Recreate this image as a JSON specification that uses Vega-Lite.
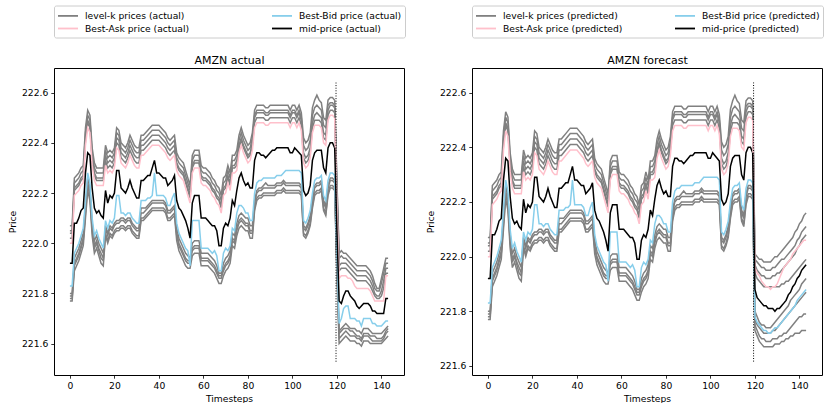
{
"$schema": "https://vega.github.io/schema/vega-lite/v6.json",
"background": "white",
"padding": {"left": 7, "top": 4, "right": 0, "bottom": 0},
"datasets": {
"hist": [
{"t":0,"m":221.92,"a1":222.00,"a2":222.02,"a3":222.04,"a4":222.05,"a5":222.07,"b1":221.83,"b2":221.80,"b3":221.79,"b4":221.78,"b5":221.77},
{"t":1,"m":221.92,"a1":222.00,"a2":222.02,"a3":222.04,"a4":222.05,"a5":222.07,"b1":221.83,"b2":221.80,"b3":221.79,"b4":221.78,"b5":221.77},
{"t":2,"m":222.08,"a1":222.19,"a2":222.21,"a3":222.22,"a4":222.24,"a5":222.26,"b1":221.96,"b2":221.94,"b3":221.92,"b4":221.91,"b5":221.89},
{"t":3,"m":222.08,"a1":222.20,"a2":222.22,"a3":222.23,"a4":222.25,"a5":222.27,"b1":221.98,"b2":221.96,"b3":221.94,"b4":221.93,"b5":221.91},
{"t":4,"m":222.10,"a1":222.21,"a2":222.23,"a3":222.24,"a4":222.26,"a5":222.28,"b1":222.00,"b2":221.98,"b3":221.96,"b4":221.95,"b5":221.93},
{"t":5,"m":222.13,"a1":222.23,"a2":222.25,"a3":222.26,"a4":222.28,"a5":222.30,"b1":222.03,"b2":222.01,"b3":221.99,"b4":221.98,"b5":221.96},
{"t":6,"m":222.14,"a1":222.24,"a2":222.26,"a3":222.27,"a4":222.29,"a5":222.31,"b1":222.06,"b2":222.04,"b3":222.02,"b4":222.01,"b5":221.99},
{"t":7,"m":222.28,"a1":222.39,"a2":222.41,"a3":222.42,"a4":222.44,"a5":222.46,"b1":222.17,"b2":222.15,"b3":222.13,"b4":222.12,"b5":222.10},
{"t":8,"m":222.36,"a1":222.46,"a2":222.48,"a3":222.49,"a4":222.51,"a5":222.53,"b1":222.28,"b2":222.26,"b3":222.24,"b4":222.23,"b5":222.21},
{"t":9,"m":222.35,"a1":222.44,"a2":222.46,"a3":222.47,"a4":222.49,"a5":222.51,"b1":222.24,"b2":222.22,"b3":222.20,"b4":222.19,"b5":222.17},
{"t":10,"m":222.22,"a1":222.31,"a2":222.33,"a3":222.34,"a4":222.36,"a5":222.38,"b1":222.10,"b2":222.08,"b3":222.06,"b4":222.05,"b5":222.03},
{"t":11,"m":222.14,"a1":222.25,"a2":222.27,"a3":222.28,"a4":222.30,"a5":222.32,"b1":222.03,"b2":222.01,"b3":221.99,"b4":221.98,"b5":221.96},
{"t":12,"m":222.12,"a1":222.23,"a2":222.25,"a3":222.26,"a4":222.28,"a5":222.30,"b1":222.05,"b2":222.03,"b3":222.01,"b4":222.00,"b5":221.98},
{"t":13,"m":222.13,"a1":222.23,"a2":222.25,"a3":222.26,"a4":222.28,"a5":222.30,"b1":222.02,"b2":222.00,"b3":221.98,"b4":221.97,"b5":221.95},
{"t":14,"m":222.11,"a1":222.23,"a2":222.25,"a3":222.26,"a4":222.28,"a5":222.30,"b1":222.00,"b2":221.98,"b3":221.96,"b4":221.94,"b5":221.92},
{"t":15,"m":222.10,"a1":222.23,"a2":222.25,"a3":222.26,"a4":222.28,"a5":222.30,"b1":221.98,"b2":221.96,"b3":221.94,"b4":221.93,"b5":221.91},
{"t":16,"m":222.21,"a1":222.31,"a2":222.33,"a3":222.35,"a4":222.37,"a5":222.39,"b1":222.09,"b2":222.07,"b3":222.06,"b4":222.04,"b5":222.03},
{"t":17,"m":222.16,"a1":222.28,"a2":222.30,"a3":222.32,"a4":222.34,"a5":222.36,"b1":222.06,"b2":222.04,"b3":222.03,"b4":222.01,"b5":222.00},
{"t":18,"m":222.19,"a1":222.29,"a2":222.31,"a3":222.33,"a4":222.35,"a5":222.37,"b1":222.09,"b2":222.07,"b3":222.06,"b4":222.04,"b5":222.03},
{"t":19,"m":222.18,"a1":222.28,"a2":222.30,"a3":222.32,"a4":222.34,"a5":222.36,"b1":222.08,"b2":222.06,"b3":222.05,"b4":222.03,"b5":222.02},
{"t":20,"m":222.20,"a1":222.30,"a2":222.32,"a3":222.34,"a4":222.36,"a5":222.38,"b1":222.10,"b2":222.08,"b3":222.07,"b4":222.05,"b5":222.04},
{"t":21,"m":222.29,"a1":222.38,"a2":222.40,"a3":222.42,"a4":222.44,"a5":222.46,"b1":222.19,"b2":222.09,"b3":222.08,"b4":222.06,"b5":222.05},
{"t":22,"m":222.29,"a1":222.37,"a2":222.39,"a3":222.41,"a4":222.43,"a5":222.45,"b1":222.19,"b2":222.09,"b3":222.08,"b4":222.06,"b5":222.05},
{"t":23,"m":222.22,"a1":222.32,"a2":222.34,"a3":222.36,"a4":222.38,"a5":222.40,"b1":222.12,"b2":222.10,"b3":222.09,"b4":222.07,"b5":222.06},
{"t":24,"m":222.21,"a1":222.31,"a2":222.33,"a3":222.35,"a4":222.37,"a5":222.39,"b1":222.12,"b2":222.10,"b3":222.09,"b4":222.07,"b5":222.06},
{"t":25,"m":222.20,"a1":222.30,"a2":222.32,"a3":222.34,"a4":222.36,"a5":222.38,"b1":222.11,"b2":222.09,"b3":222.08,"b4":222.06,"b5":222.05},
{"t":26,"m":222.22,"a1":222.32,"a2":222.34,"a3":222.36,"a4":222.38,"a5":222.40,"b1":222.12,"b2":222.10,"b3":222.09,"b4":222.07,"b5":222.06},
{"t":27,"m":222.25,"a1":222.35,"a2":222.37,"a3":222.39,"a4":222.41,"a5":222.43,"b1":222.12,"b2":222.10,"b3":222.09,"b4":222.07,"b5":222.06},
{"t":28,"m":222.22,"a1":222.33,"a2":222.35,"a3":222.37,"a4":222.39,"a5":222.41,"b1":222.10,"b2":222.08,"b3":222.07,"b4":222.05,"b5":222.04},
{"t":29,"m":222.20,"a1":222.31,"a2":222.33,"a3":222.35,"a4":222.37,"a5":222.39,"b1":222.09,"b2":222.07,"b3":222.06,"b4":222.04,"b5":222.03},
{"t":30,"m":222.18,"a1":222.30,"a2":222.32,"a3":222.34,"a4":222.36,"a5":222.38,"b1":222.08,"b2":222.06,"b3":222.05,"b4":222.03,"b5":222.02},
{"t":31,"m":222.18,"a1":222.30,"a2":222.32,"a3":222.34,"a4":222.36,"a5":222.38,"b1":222.08,"b2":222.06,"b3":222.05,"b4":222.03,"b5":222.02},
{"t":32,"m":222.25,"a1":222.35,"a2":222.37,"a3":222.39,"a4":222.41,"a5":222.43,"b1":222.17,"b2":222.14,"b3":222.12,"b4":222.10,"b5":222.09},
{"t":33,"m":222.25,"a1":222.35,"a2":222.37,"a3":222.39,"a4":222.41,"a5":222.43,"b1":222.17,"b2":222.14,"b3":222.12,"b4":222.10,"b5":222.09},
{"t":34,"m":222.26,"a1":222.36,"a2":222.38,"a3":222.40,"a4":222.42,"a5":222.44,"b1":222.17,"b2":222.14,"b3":222.13,"b4":222.11,"b5":222.10},
{"t":35,"m":222.27,"a1":222.37,"a2":222.39,"a3":222.41,"a4":222.43,"a5":222.45,"b1":222.18,"b2":222.15,"b3":222.14,"b4":222.12,"b5":222.11},
{"t":36,"m":222.27,"a1":222.38,"a2":222.40,"a3":222.42,"a4":222.44,"a5":222.46,"b1":222.18,"b2":222.16,"b3":222.15,"b4":222.13,"b5":222.12},
{"t":37,"m":222.30,"a1":222.39,"a2":222.41,"a3":222.43,"a4":222.45,"a5":222.47,"b1":222.19,"b2":222.17,"b3":222.16,"b4":222.14,"b5":222.13},
{"t":38,"m":222.33,"a1":222.39,"a2":222.41,"a3":222.43,"a4":222.45,"a5":222.47,"b1":222.28,"b2":222.17,"b3":222.16,"b4":222.14,"b5":222.13},
{"t":39,"m":222.28,"a1":222.39,"a2":222.41,"a3":222.43,"a4":222.45,"a5":222.47,"b1":222.19,"b2":222.17,"b3":222.16,"b4":222.14,"b5":222.13},
{"t":40,"m":222.28,"a1":222.39,"a2":222.41,"a3":222.43,"a4":222.45,"a5":222.47,"b1":222.19,"b2":222.17,"b3":222.16,"b4":222.14,"b5":222.13},
{"t":41,"m":222.27,"a1":222.38,"a2":222.40,"a3":222.42,"a4":222.44,"a5":222.46,"b1":222.19,"b2":222.17,"b3":222.16,"b4":222.14,"b5":222.13},
{"t":42,"m":222.26,"a1":222.37,"a2":222.39,"a3":222.41,"a4":222.43,"a5":222.45,"b1":222.19,"b2":222.17,"b3":222.16,"b4":222.14,"b5":222.13},
{"t":43,"m":222.26,"a1":222.36,"a2":222.38,"a3":222.40,"a4":222.42,"a5":222.44,"b1":222.18,"b2":222.16,"b3":222.15,"b4":222.13,"b5":222.12},
{"t":44,"m":222.23,"a1":222.34,"a2":222.36,"a3":222.38,"a4":222.40,"a5":222.42,"b1":222.15,"b2":222.13,"b3":222.12,"b4":222.10,"b5":222.09},
{"t":45,"m":222.24,"a1":222.33,"a2":222.35,"a3":222.37,"a4":222.39,"a5":222.41,"b1":222.15,"b2":222.13,"b3":222.12,"b4":222.10,"b5":222.09},
{"t":46,"m":222.25,"a1":222.34,"a2":222.36,"a3":222.38,"a4":222.40,"a5":222.42,"b1":222.18,"b2":222.14,"b3":222.13,"b4":222.11,"b5":222.10},
{"t":47,"m":222.27,"a1":222.35,"a2":222.37,"a3":222.39,"a4":222.41,"a5":222.43,"b1":222.20,"b2":222.15,"b3":222.14,"b4":222.12,"b5":222.11},
{"t":48,"m":222.17,"a1":222.29,"a2":222.31,"a3":222.32,"a4":222.34,"a5":222.36,"b1":222.08,"b2":222.06,"b3":222.04,"b4":222.03,"b5":222.01},
{"t":49,"m":222.14,"a1":222.27,"a2":222.29,"a3":222.30,"a4":222.32,"a5":222.34,"b1":222.04,"b2":222.02,"b3":222.00,"b4":221.99,"b5":221.97},
{"t":50,"m":222.13,"a1":222.26,"a2":222.28,"a3":222.29,"a4":222.31,"a5":222.33,"b1":222.02,"b2":222.00,"b3":221.98,"b4":221.97,"b5":221.95},
{"t":51,"m":222.11,"a1":222.25,"a2":222.27,"a3":222.28,"a4":222.30,"a5":222.32,"b1":222.00,"b2":221.98,"b3":221.96,"b4":221.95,"b5":221.93},
{"t":52,"m":222.09,"a1":222.22,"a2":222.24,"a3":222.25,"a4":222.27,"a5":222.29,"b1":221.98,"b2":221.96,"b3":221.94,"b4":221.93,"b5":221.91},
{"t":53,"m":222.06,"a1":222.19,"a2":222.21,"a3":222.22,"a4":222.24,"a5":222.26,"b1":221.97,"b2":221.95,"b3":221.93,"b4":221.92,"b5":221.90},
{"t":54,"m":222.02,"a1":222.16,"a2":222.18,"a3":222.19,"a4":222.21,"a5":222.23,"b1":221.91,"b2":221.94,"b3":221.93,"b4":221.92,"b5":221.90},
{"t":55,"m":222.16,"a1":222.28,"a2":222.30,"a3":222.31,"a4":222.33,"a5":222.35,"b1":222.09,"b2":222.00,"b3":221.98,"b4":221.97,"b5":221.95},
{"t":56,"m":222.19,"a1":222.30,"a2":222.32,"a3":222.33,"a4":222.35,"a5":222.37,"b1":222.09,"b2":222.01,"b3":221.99,"b4":221.98,"b5":221.96},
{"t":57,"m":222.19,"a1":222.30,"a2":222.32,"a3":222.33,"a4":222.35,"a5":222.37,"b1":222.09,"b2":222.01,"b3":221.99,"b4":221.98,"b5":221.96},
{"t":58,"m":222.19,"a1":222.30,"a2":222.32,"a3":222.33,"a4":222.35,"a5":222.37,"b1":222.09,"b2":222.01,"b3":221.99,"b4":221.98,"b5":221.96},
{"t":59,"m":222.10,"a1":222.24,"a2":222.26,"a3":222.27,"a4":222.29,"a5":222.31,"b1":221.98,"b2":221.96,"b3":221.94,"b4":221.93,"b5":221.91},
{"t":60,"m":222.10,"a1":222.23,"a2":222.25,"a3":222.26,"a4":222.28,"a5":222.30,"b1":221.98,"b2":221.96,"b3":221.94,"b4":221.93,"b5":221.91},
{"t":61,"m":222.10,"a1":222.23,"a2":222.25,"a3":222.26,"a4":222.28,"a5":222.30,"b1":221.98,"b2":221.96,"b3":221.94,"b4":221.93,"b5":221.91},
{"t":62,"m":222.09,"a1":222.22,"a2":222.24,"a3":222.25,"a4":222.27,"a5":222.29,"b1":221.98,"b2":221.96,"b3":221.94,"b4":221.93,"b5":221.91},
{"t":63,"m":222.08,"a1":222.21,"a2":222.23,"a3":222.24,"a4":222.26,"a5":222.28,"b1":221.97,"b2":221.95,"b3":221.93,"b4":221.92,"b5":221.90},
{"t":64,"m":222.07,"a1":222.19,"a2":222.21,"a3":222.22,"a4":222.24,"a5":222.26,"b1":221.96,"b2":221.94,"b3":221.92,"b4":221.91,"b5":221.89},
{"t":65,"m":222.07,"a1":222.18,"a2":222.20,"a3":222.21,"a4":222.23,"a5":222.25,"b1":221.97,"b2":221.93,"b3":221.91,"b4":221.90,"b5":221.88},
{"t":66,"m":222.05,"a1":222.16,"a2":222.18,"a3":222.19,"a4":222.21,"a5":222.23,"b1":221.95,"b2":221.91,"b3":221.89,"b4":221.88,"b5":221.86},
{"t":67,"m":221.99,"a1":222.15,"a2":222.17,"a3":222.18,"a4":222.20,"a5":222.22,"b1":221.89,"b2":221.88,"b3":221.87,"b4":221.86,"b5":221.84},
{"t":68,"m":221.99,"a1":222.12,"a2":222.14,"a3":222.15,"a4":222.17,"a5":222.19,"b1":221.89,"b2":221.88,"b3":221.87,"b4":221.86,"b5":221.84},
{"t":69,"m":222.06,"a1":222.19,"a2":222.21,"a3":222.22,"a4":222.24,"a5":222.26,"b1":221.96,"b2":221.92,"b3":221.90,"b4":221.89,"b5":221.87},
{"t":70,"m":222.08,"a1":222.20,"a2":222.22,"a3":222.23,"a4":222.25,"a5":222.27,"b1":221.98,"b2":221.94,"b3":221.92,"b4":221.91,"b5":221.89},
{"t":71,"m":222.07,"a1":222.24,"a2":222.26,"a3":222.27,"a4":222.29,"a5":222.31,"b1":221.97,"b2":221.95,"b3":221.93,"b4":221.92,"b5":221.90},
{"t":72,"m":222.10,"a1":222.21,"a2":222.23,"a3":222.24,"a4":222.26,"a5":222.28,"b1":221.99,"b2":221.97,"b3":221.95,"b4":221.94,"b5":221.92},
{"t":73,"m":222.17,"a1":222.28,"a2":222.30,"a3":222.31,"a4":222.33,"a5":222.35,"b1":222.06,"b2":222.04,"b3":222.02,"b4":222.01,"b5":221.99},
{"t":74,"m":222.15,"a1":222.28,"a2":222.30,"a3":222.31,"a4":222.33,"a5":222.35,"b1":222.05,"b2":222.03,"b3":222.01,"b4":222.00,"b5":221.98},
{"t":75,"m":222.21,"a1":222.29,"a2":222.31,"a3":222.33,"a4":222.35,"a5":222.37,"b1":222.12,"b2":222.08,"b3":222.06,"b4":222.05,"b5":222.03},
{"t":76,"m":222.26,"a1":222.36,"a2":222.38,"a3":222.39,"a4":222.41,"a5":222.43,"b1":222.15,"b2":222.11,"b3":222.09,"b4":222.08,"b5":222.06},
{"t":77,"m":222.28,"a1":222.39,"a2":222.41,"a3":222.42,"a4":222.44,"a5":222.46,"b1":222.15,"b2":222.12,"b3":222.10,"b4":222.09,"b5":222.07},
{"t":78,"m":222.25,"a1":222.36,"a2":222.38,"a3":222.39,"a4":222.41,"a5":222.43,"b1":222.14,"b2":222.11,"b3":222.09,"b4":222.08,"b5":222.06},
{"t":79,"m":222.23,"a1":222.34,"a2":222.36,"a3":222.37,"a4":222.39,"a5":222.41,"b1":222.12,"b2":222.10,"b3":222.08,"b4":222.07,"b5":222.05},
{"t":80,"m":222.24,"a1":222.32,"a2":222.34,"a3":222.35,"a4":222.37,"a5":222.39,"b1":222.12,"b2":222.10,"b3":222.08,"b4":222.07,"b5":222.05},
{"t":81,"m":222.22,"a1":222.33,"a2":222.35,"a3":222.36,"a4":222.38,"a5":222.40,"b1":222.09,"b2":222.07,"b3":222.05,"b4":222.04,"b5":222.02},
{"t":82,"m":222.22,"a1":222.37,"a2":222.39,"a3":222.40,"a4":222.42,"a5":222.44,"b1":222.09,"b2":222.07,"b3":222.05,"b4":222.04,"b5":222.02},
{"t":83,"m":222.33,"a1":222.46,"a2":222.48,"a3":222.50,"a4":222.51,"a5":222.53,"b1":222.20,"b2":222.17,"b3":222.16,"b4":222.14,"b5":222.13},
{"t":84,"m":222.36,"a1":222.48,"a2":222.50,"a3":222.52,"a4":222.53,"a5":222.55,"b1":222.24,"b2":222.21,"b3":222.20,"b4":222.18,"b5":222.17},
{"t":85,"m":222.36,"a1":222.48,"a2":222.50,"a3":222.52,"a4":222.53,"a5":222.55,"b1":222.25,"b2":222.22,"b3":222.21,"b4":222.19,"b5":222.18},
{"t":86,"m":222.35,"a1":222.48,"a2":222.50,"a3":222.52,"a4":222.53,"a5":222.55,"b1":222.25,"b2":222.22,"b3":222.21,"b4":222.19,"b5":222.18},
{"t":87,"m":222.35,"a1":222.48,"a2":222.50,"a3":222.52,"a4":222.53,"a5":222.55,"b1":222.26,"b2":222.23,"b3":222.22,"b4":222.20,"b5":222.19},
{"t":88,"m":222.34,"a1":222.47,"a2":222.49,"a3":222.51,"a4":222.52,"a5":222.54,"b1":222.26,"b2":222.24,"b3":222.22,"b4":222.20,"b5":222.19},
{"t":89,"m":222.35,"a1":222.47,"a2":222.49,"a3":222.51,"a4":222.52,"a5":222.54,"b1":222.26,"b2":222.23,"b3":222.22,"b4":222.20,"b5":222.19},
{"t":90,"m":222.36,"a1":222.48,"a2":222.50,"a3":222.52,"a4":222.53,"a5":222.55,"b1":222.26,"b2":222.23,"b3":222.22,"b4":222.20,"b5":222.19},
{"t":91,"m":222.37,"a1":222.48,"a2":222.50,"a3":222.52,"a4":222.53,"a5":222.55,"b1":222.26,"b2":222.23,"b3":222.22,"b4":222.20,"b5":222.19},
{"t":92,"m":222.37,"a1":222.48,"a2":222.50,"a3":222.52,"a4":222.53,"a5":222.55,"b1":222.26,"b2":222.23,"b3":222.22,"b4":222.20,"b5":222.19},
{"t":93,"m":222.38,"a1":222.48,"a2":222.50,"a3":222.52,"a4":222.53,"a5":222.55,"b1":222.27,"b2":222.24,"b3":222.23,"b4":222.21,"b5":222.20},
{"t":94,"m":222.38,"a1":222.48,"a2":222.50,"a3":222.52,"a4":222.53,"a5":222.55,"b1":222.27,"b2":222.24,"b3":222.23,"b4":222.21,"b5":222.20},
{"t":95,"m":222.38,"a1":222.48,"a2":222.50,"a3":222.52,"a4":222.53,"a5":222.55,"b1":222.27,"b2":222.24,"b3":222.23,"b4":222.21,"b5":222.20},
{"t":96,"m":222.38,"a1":222.48,"a2":222.50,"a3":222.52,"a4":222.53,"a5":222.55,"b1":222.28,"b2":222.25,"b3":222.24,"b4":222.22,"b5":222.21},
{"t":97,"m":222.38,"a1":222.48,"a2":222.50,"a3":222.52,"a4":222.53,"a5":222.55,"b1":222.29,"b2":222.24,"b3":222.23,"b4":222.21,"b5":222.20},
{"t":98,"m":222.38,"a1":222.48,"a2":222.50,"a3":222.52,"a4":222.53,"a5":222.55,"b1":222.29,"b2":222.24,"b3":222.23,"b4":222.21,"b5":222.20},
{"t":99,"m":222.36,"a1":222.46,"a2":222.48,"a3":222.50,"a4":222.51,"a5":222.53,"b1":222.29,"b2":222.24,"b3":222.23,"b4":222.21,"b5":222.20},
{"t":100,"m":222.36,"a1":222.48,"a2":222.50,"a3":222.52,"a4":222.53,"a5":222.55,"b1":222.29,"b2":222.24,"b3":222.23,"b4":222.21,"b5":222.20},
{"t":101,"m":222.38,"a1":222.48,"a2":222.50,"a3":222.52,"a4":222.53,"a5":222.55,"b1":222.29,"b2":222.24,"b3":222.23,"b4":222.21,"b5":222.20},
{"t":102,"m":222.37,"a1":222.46,"a2":222.48,"a3":222.50,"a4":222.51,"a5":222.53,"b1":222.29,"b2":222.24,"b3":222.23,"b4":222.21,"b5":222.20},
{"t":103,"m":222.36,"a1":222.48,"a2":222.50,"a3":222.52,"a4":222.53,"a5":222.55,"b1":222.29,"b2":222.24,"b3":222.23,"b4":222.21,"b5":222.20},
{"t":104,"m":222.35,"a1":222.45,"a2":222.47,"a3":222.49,"a4":222.50,"a5":222.52,"b1":222.28,"b2":222.23,"b3":222.22,"b4":222.20,"b5":222.19},
{"t":105,"m":222.21,"a1":222.32,"a2":222.34,"a3":222.36,"a4":222.39,"a5":222.42,"b1":222.09,"b2":222.07,"b3":222.06,"b4":222.04,"b5":222.03},
{"t":106,"m":222.19,"a1":222.30,"a2":222.32,"a3":222.34,"a4":222.37,"a5":222.40,"b1":222.08,"b2":222.06,"b3":222.05,"b4":222.03,"b5":222.02},
{"t":107,"m":222.20,"a1":222.31,"a2":222.33,"a3":222.35,"a4":222.38,"a5":222.41,"b1":222.10,"b2":222.08,"b3":222.07,"b4":222.05,"b5":222.04},
{"t":108,"m":222.23,"a1":222.34,"a2":222.36,"a3":222.38,"a4":222.41,"a5":222.44,"b1":222.13,"b2":222.11,"b3":222.10,"b4":222.08,"b5":222.07},
{"t":109,"m":222.33,"a1":222.44,"a2":222.46,"a3":222.48,"a4":222.51,"a5":222.54,"b1":222.20,"b2":222.18,"b3":222.17,"b4":222.15,"b5":222.14},
{"t":110,"m":222.36,"a1":222.47,"a2":222.49,"a3":222.51,"a4":222.54,"a5":222.57,"b1":222.25,"b2":222.23,"b3":222.22,"b4":222.20,"b5":222.19},
{"t":111,"m":222.37,"a1":222.47,"a2":222.49,"a3":222.52,"a4":222.55,"a5":222.59,"b1":222.26,"b2":222.24,"b3":222.23,"b4":222.21,"b5":222.20},
{"t":112,"m":222.37,"a1":222.47,"a2":222.49,"a3":222.51,"a4":222.54,"a5":222.57,"b1":222.26,"b2":222.24,"b3":222.23,"b4":222.21,"b5":222.20},
{"t":113,"m":222.37,"a1":222.46,"a2":222.48,"a3":222.50,"a4":222.53,"a5":222.56,"b1":222.27,"b2":222.25,"b3":222.24,"b4":222.22,"b5":222.21},
{"t":114,"m":222.30,"a1":222.40,"a2":222.42,"a3":222.44,"a4":222.47,"a5":222.50,"b1":222.19,"b2":222.17,"b3":222.16,"b4":222.14,"b5":222.13},
{"t":115,"m":222.28,"a1":222.39,"a2":222.41,"a3":222.43,"a4":222.46,"a5":222.49,"b1":222.17,"b2":222.15,"b3":222.14,"b4":222.12,"b5":222.11},
{"t":116,"m":222.38,"a1":222.49,"a2":222.51,"a3":222.53,"a4":222.55,"a5":222.57,"b1":222.25,"b2":222.23,"b3":222.22,"b4":222.20,"b5":222.19},
{"t":117,"m":222.40,"a1":222.51,"a2":222.53,"a3":222.55,"a4":222.56,"a5":222.58,"b1":222.28,"b2":222.26,"b3":222.25,"b4":222.23,"b5":222.22},
{"t":118,"m":222.40,"a1":222.51,"a2":222.53,"a3":222.55,"a4":222.56,"a5":222.58,"b1":222.28,"b2":222.26,"b3":222.25,"b4":222.23,"b5":222.22},
{"t":119,"m":222.38,"a1":222.50,"a2":222.52,"a3":222.54,"a4":222.55,"a5":222.57,"b1":222.27,"b2":222.25,"b3":222.24,"b4":222.22,"b5":222.21}
],
"act": [
{"t":119,"m":222.38,"a1":222.50,"a2":222.52,"a3":222.54,"a4":222.55,"a5":222.57,"b1":222.27,"b2":222.25,"b3":222.24,"b4":222.22,"b5":222.21},
{"t":120,"m":222.05,"a1":222.15,"a2":222.18,"a3":222.20,"a4":222.23,"a5":222.25,"b1":221.95,"b2":221.92,"b3":221.91,"b4":221.89,"b5":221.87},
{"t":121,"m":221.77,"a1":221.86,"a2":221.89,"a3":221.91,"a4":221.94,"a5":221.96,"b1":221.68,"b2":221.65,"b3":221.64,"b4":221.62,"b5":221.60},
{"t":122,"m":221.76,"a1":221.87,"a2":221.90,"a3":221.92,"a4":221.95,"a5":221.97,"b1":221.70,"b2":221.66,"b3":221.65,"b4":221.63,"b5":221.61},
{"t":123,"m":221.79,"a1":221.87,"a2":221.90,"a3":221.92,"a4":221.94,"a5":221.96,"b1":221.74,"b2":221.67,"b3":221.66,"b4":221.64,"b5":221.62},
{"t":124,"m":221.81,"a1":221.87,"a2":221.90,"a3":221.92,"a4":221.94,"a5":221.96,"b1":221.75,"b2":221.68,"b3":221.66,"b4":221.65,"b5":221.63},
{"t":125,"m":221.81,"a1":221.86,"a2":221.89,"a3":221.91,"a4":221.93,"a5":221.95,"b1":221.75,"b2":221.67,"b3":221.66,"b4":221.64,"b5":221.62},
{"t":126,"m":221.79,"a1":221.86,"a2":221.88,"a3":221.90,"a4":221.92,"a5":221.94,"b1":221.70,"b2":221.66,"b3":221.65,"b4":221.63,"b5":221.61},
{"t":127,"m":221.78,"a1":221.85,"a2":221.87,"a3":221.89,"a4":221.91,"a5":221.93,"b1":221.70,"b2":221.66,"b3":221.65,"b4":221.63,"b5":221.61},
{"t":128,"m":221.77,"a1":221.83,"a2":221.86,"a3":221.88,"a4":221.90,"a5":221.92,"b1":221.70,"b2":221.66,"b3":221.64,"b4":221.63,"b5":221.61},
{"t":129,"m":221.75,"a1":221.82,"a2":221.85,"a3":221.87,"a4":221.89,"a5":221.91,"b1":221.69,"b2":221.65,"b3":221.63,"b4":221.62,"b5":221.60},
{"t":130,"m":221.74,"a1":221.82,"a2":221.85,"a3":221.87,"a4":221.89,"a5":221.91,"b1":221.69,"b2":221.65,"b3":221.63,"b4":221.62,"b5":221.60},
{"t":131,"m":221.75,"a1":221.82,"a2":221.85,"a3":221.87,"a4":221.89,"a5":221.91,"b1":221.67,"b2":221.64,"b3":221.62,"b4":221.61,"b5":221.59},
{"t":132,"m":221.76,"a1":221.82,"a2":221.85,"a3":221.87,"a4":221.89,"a5":221.91,"b1":221.70,"b2":221.66,"b3":221.64,"b4":221.63,"b5":221.61},
{"t":133,"m":221.76,"a1":221.82,"a2":221.85,"a3":221.87,"a4":221.89,"a5":221.91,"b1":221.70,"b2":221.66,"b3":221.64,"b4":221.63,"b5":221.61},
{"t":134,"m":221.76,"a1":221.82,"a2":221.84,"a3":221.86,"a4":221.88,"a5":221.90,"b1":221.70,"b2":221.66,"b3":221.64,"b4":221.63,"b5":221.61},
{"t":135,"m":221.75,"a1":221.81,"a2":221.83,"a3":221.85,"a4":221.87,"a5":221.89,"b1":221.70,"b2":221.65,"b3":221.63,"b4":221.62,"b5":221.60},
{"t":136,"m":221.73,"a1":221.79,"a2":221.81,"a3":221.83,"a4":221.85,"a5":221.87,"b1":221.68,"b2":221.64,"b3":221.63,"b4":221.61,"b5":221.60},
{"t":137,"m":221.73,"a1":221.77,"a2":221.79,"a3":221.80,"a4":221.82,"a5":221.84,"b1":221.68,"b2":221.64,"b3":221.63,"b4":221.61,"b5":221.60},
{"t":138,"m":221.72,"a1":221.77,"a2":221.78,"a3":221.79,"a4":221.81,"a5":221.82,"b1":221.67,"b2":221.64,"b3":221.62,"b4":221.61,"b5":221.60},
{"t":139,"m":221.72,"a1":221.77,"a2":221.78,"a3":221.79,"a4":221.81,"a5":221.82,"b1":221.67,"b2":221.64,"b3":221.62,"b4":221.61,"b5":221.60},
{"t":140,"m":221.72,"a1":221.77,"a2":221.79,"a3":221.81,"a4":221.84,"a5":221.86,"b1":221.67,"b2":221.64,"b3":221.62,"b4":221.61,"b5":221.60},
{"t":141,"m":221.72,"a1":221.77,"a2":221.82,"a3":221.85,"a4":221.88,"a5":221.90,"b1":221.68,"b2":221.65,"b3":221.63,"b4":221.62,"b5":221.61},
{"t":142,"m":221.78,"a1":221.87,"a2":221.88,"a3":221.90,"a4":221.92,"a5":221.94,"b1":221.69,"b2":221.66,"b3":221.65,"b4":221.64,"b5":221.62},
{"t":143,"m":221.78,"a1":221.87,"a2":221.88,"a3":221.90,"a4":221.92,"a5":221.94,"b1":221.69,"b2":221.67,"b3":221.66,"b4":221.65,"b5":221.63}
],
"pred": [
{"t":119,"m":222.38,"a1":222.50,"a2":222.52,"a3":222.54,"a4":222.55,"a5":222.57,"b1":222.27,"b2":222.25,"b3":222.24,"b4":222.22,"b5":222.21},
{"t":120,"m":221.88,"a1":221.96,"a2":221.94,"a3":221.97,"a4":221.99,"a5":222.01,"b1":221.78,"b2":221.80,"b3":221.77,"b4":221.75,"b5":221.73},
{"t":121,"m":221.85,"a1":221.94,"a2":221.92,"a3":221.95,"a4":221.98,"a5":222.00,"b1":221.76,"b2":221.78,"b3":221.75,"b4":221.73,"b5":221.71},
{"t":122,"m":221.84,"a1":221.93,"a2":221.91,"a3":221.94,"a4":221.97,"a5":221.99,"b1":221.75,"b2":221.76,"b3":221.74,"b4":221.71,"b5":221.69},
{"t":123,"m":221.83,"a1":221.91,"a2":221.90,"a3":221.93,"a4":221.96,"a5":221.99,"b1":221.74,"b2":221.75,"b3":221.73,"b4":221.70,"b5":221.68},
{"t":124,"m":221.82,"a1":221.90,"a2":221.89,"a3":221.93,"a4":221.96,"a5":221.98,"b1":221.73,"b2":221.75,"b3":221.72,"b4":221.70,"b5":221.67},
{"t":125,"m":221.82,"a1":221.89,"a2":221.89,"a3":221.92,"a4":221.95,"a5":221.98,"b1":221.73,"b2":221.74,"b3":221.72,"b4":221.69,"b5":221.67},
{"t":126,"m":221.81,"a1":221.89,"a2":221.89,"a3":221.92,"a4":221.95,"a5":221.98,"b1":221.72,"b2":221.74,"b3":221.72,"b4":221.69,"b5":221.67},
{"t":127,"m":221.81,"a1":221.88,"a2":221.89,"a3":221.92,"a4":221.95,"a5":221.98,"b1":221.72,"b2":221.74,"b3":221.72,"b4":221.69,"b5":221.67},
{"t":128,"m":221.81,"a1":221.89,"a2":221.89,"a3":221.93,"a4":221.96,"a5":221.99,"b1":221.73,"b2":221.75,"b3":221.73,"b4":221.70,"b5":221.67},
{"t":129,"m":221.80,"a1":221.89,"a2":221.89,"a3":221.93,"a4":221.96,"a5":222.00,"b1":221.74,"b2":221.76,"b3":221.73,"b4":221.70,"b5":221.68},
{"t":130,"m":221.81,"a1":221.90,"a2":221.89,"a3":221.94,"a4":221.97,"a5":222.00,"b1":221.74,"b2":221.77,"b3":221.74,"b4":221.70,"b5":221.68},
{"t":131,"m":221.81,"a1":221.92,"a2":221.89,"a3":221.94,"a4":221.98,"a5":222.01,"b1":221.75,"b2":221.78,"b3":221.75,"b4":221.71,"b5":221.68},
{"t":132,"m":221.82,"a1":221.94,"a2":221.90,"a3":221.95,"a4":221.99,"a5":222.02,"b1":221.76,"b2":221.79,"b3":221.76,"b4":221.71,"b5":221.69},
{"t":133,"m":221.83,"a1":221.96,"a2":221.90,"a3":221.96,"a4":221.99,"a5":222.03,"b1":221.77,"b2":221.80,"b3":221.77,"b4":221.72,"b5":221.69},
{"t":134,"m":221.84,"a1":221.97,"a2":221.91,"a3":221.97,"a4":222.00,"a5":222.04,"b1":221.78,"b2":221.81,"b3":221.78,"b4":221.72,"b5":221.70},
{"t":135,"m":221.86,"a1":221.98,"a2":221.91,"a3":221.98,"a4":222.01,"a5":222.05,"b1":221.79,"b2":221.82,"b3":221.79,"b4":221.73,"b5":221.70},
{"t":136,"m":221.87,"a1":221.99,"a2":221.92,"a3":221.99,"a4":222.02,"a5":222.06,"b1":221.80,"b2":221.84,"b3":221.80,"b4":221.74,"b5":221.71},
{"t":137,"m":221.89,"a1":222.01,"a2":221.93,"a3":222.00,"a4":222.03,"a5":222.07,"b1":221.81,"b2":221.85,"b3":221.81,"b4":221.75,"b5":221.71},
{"t":138,"m":221.90,"a1":222.02,"a2":221.94,"a3":222.01,"a4":222.04,"a5":222.09,"b1":221.82,"b2":221.86,"b3":221.82,"b4":221.76,"b5":221.72},
{"t":139,"m":221.92,"a1":222.03,"a2":221.95,"a3":222.03,"a4":222.06,"a5":222.10,"b1":221.84,"b2":221.87,"b3":221.83,"b4":221.77,"b5":221.72},
{"t":140,"m":221.93,"a1":222.04,"a2":221.96,"a3":222.04,"a4":222.07,"a5":222.12,"b1":221.85,"b2":221.88,"b3":221.84,"b4":221.78,"b5":221.72},
{"t":141,"m":221.95,"a1":222.05,"a2":221.97,"a3":222.06,"a4":222.09,"a5":222.13,"b1":221.86,"b2":221.90,"b3":221.85,"b4":221.78,"b5":221.73},
{"t":142,"m":221.96,"a1":222.06,"a2":221.98,"a3":222.07,"a4":222.10,"a5":222.15,"b1":221.87,"b2":221.91,"b3":221.86,"b4":221.79,"b5":221.73},
{"t":143,"m":221.97,"a1":222.06,"a2":221.99,"a3":222.08,"a4":222.11,"a5":222.16,"b1":221.88,"b2":221.92,"b3":221.87,"b4":221.79,"b5":221.73}
]
},
"spacing": 19,
"resolve": {"scale": {"color": "independent", "x": "independent", "y": "independent"}, "legend": {"color": "independent"}},
"hconcat": [
{
"width": 350, "height": 307,
"encoding": {
"x": {"field": "t", "type": "quantitative", "scale": {"domain": [-7.15, 150.15], "nice": false, "zero": false}, "axis": null},
"y": {"field": "price", "type": "quantitative", "title": "Price", "scale": {"domain": [221.475, 222.698], "nice": false, "zero": false}, "axis": {"values": [221.6, 221.8, 222.0, 222.2, 222.4, 222.6], "format": ".1f"}}
},
"layer": [
{"data": {"name": "hist"}, "transform": [{"fold": ["a2","a3","a4","a5","b2","b3","b4","b5"], "as": ["lvl","price"]}],
 "mark": {"type": "line", "strokeWidth": 1.5},
 "encoding": {
  "x": {"field": "t", "type": "quantitative", "axis": {"orient": "bottom", "title": "Timesteps", "values": [0,20,40,60,80,100,120,140]}},
  "detail": {"field": "lvl"},
  "color": {"datum": "level-k prices (actual)", "type": "nominal", "scale": {"domain": ["level-k prices (actual)","Best-Ask price (actual)","Best-Bid price (actual)","mid-price (actual)"], "range": ["#808080","#ffc0cb","#87ceeb","#000000"]}, "legend": {"columnPadding": 78}}
 }},
{"data": {"name": "hist"}, "transform": [{"fold": ["a1"], "as": ["lvl","price"]}],
 "mark": {"type": "line", "strokeWidth": 1.5},
 "encoding": {
  "x": {"field": "t", "type": "quantitative", "axis": {"orient": "top", "title": "AMZN actual", "labels": false, "ticks": false, "domain": false, "titleFontSize": 11, "titlePadding": 3}},
  "color": {"datum": "Best-Ask price (actual)", "type": "nominal"}
 }},
{"data": {"name": "hist"}, "transform": [{"fold": ["b1"], "as": ["lvl","price"]}],
 "mark": {"type": "line", "strokeWidth": 1.5},
 "encoding": {"color": {"datum": "Best-Bid price (actual)", "type": "nominal"}}},
{"data": {"name": "hist"}, "transform": [{"fold": ["m"], "as": ["lvl","price"]}],
 "mark": {"type": "line", "strokeWidth": 1.5},
 "encoding": {"color": {"datum": "mid-price (actual)", "type": "nominal"}}},
{"data": {"name": "act"}, "transform": [{"fold": ["a2","a3","a4","a5","b2","b3","b4","b5"], "as": ["lvl","price"]}],
 "mark": {"type": "line", "strokeWidth": 1.5},
 "encoding": {"detail": {"field": "lvl"}, "color": {"datum": "level-k prices (actual)", "type": "nominal"}}},
{"data": {"name": "act"}, "transform": [{"fold": ["a1"], "as": ["lvl","price"]}],
 "mark": {"type": "line", "strokeWidth": 1.5},
 "encoding": {"color": {"datum": "Best-Ask price (actual)", "type": "nominal"}}},
{"data": {"name": "act"}, "transform": [{"fold": ["b1"], "as": ["lvl","price"]}],
 "mark": {"type": "line", "strokeWidth": 1.5},
 "encoding": {"color": {"datum": "Best-Bid price (actual)", "type": "nominal"}}},
{"data": {"name": "act"}, "transform": [{"fold": ["m"], "as": ["lvl","price"]}],
 "mark": {"type": "line", "strokeWidth": 1.5},
 "encoding": {"color": {"datum": "mid-price (actual)", "type": "nominal"}}},
{"data": {"values": [{"t": 119.6, "price": 221.528, "price2": 222.64}]},
 "mark": {"type": "rule", "color": "#000000", "strokeWidth": 1, "strokeDash": [1, 1.6]},
 "encoding": {"y2": {"field": "price2"}}}
],
"resolve": {"axis": {"x": "independent"}}
},
{
"width": 350, "height": 307,
"encoding": {
"x": {"field": "t", "type": "quantitative", "scale": {"domain": [-7.15, 150.15], "nice": false, "zero": false}, "axis": null},
"y": {"field": "price", "type": "quantitative", "title": "Price", "scale": {"domain": [221.567, 222.69], "nice": false, "zero": false}, "axis": {"values": [221.6, 221.8, 222.0, 222.2, 222.4, 222.6], "format": ".1f"}}
},
"layer": [
{"data": {"name": "hist"}, "transform": [{"fold": ["a2","a3","a4","a5","b2","b3","b4","b5"], "as": ["lvl","price"]}],
 "mark": {"type": "line", "strokeWidth": 1.5},
 "encoding": {
  "x": {"field": "t", "type": "quantitative", "axis": {"orient": "bottom", "title": "Timesteps", "values": [0,20,40,60,80,100,120,140]}},
  "detail": {"field": "lvl"},
  "color": {"datum": "level-k prices (predicted)", "type": "nominal", "scale": {"domain": ["level-k prices (predicted)","Best-Ask price (predicted)","Best-Bid price (predicted)","mid-price (predicted)"], "range": ["#808080","#ffc0cb","#87ceeb","#000000"]}, "legend": {"columnPadding": 48}}
 }},
{"data": {"name": "hist"}, "transform": [{"fold": ["a1"], "as": ["lvl","price"]}],
 "mark": {"type": "line", "strokeWidth": 1.5},
 "encoding": {
  "x": {"field": "t", "type": "quantitative", "axis": {"orient": "top", "title": "AMZN forecast", "labels": false, "ticks": false, "domain": false, "titleFontSize": 11, "titlePadding": 3}},
  "color": {"datum": "Best-Ask price (predicted)", "type": "nominal"}
 }},
{"data": {"name": "hist"}, "transform": [{"fold": ["b1"], "as": ["lvl","price"]}],
 "mark": {"type": "line", "strokeWidth": 1.5},
 "encoding": {"color": {"datum": "Best-Bid price (predicted)", "type": "nominal"}}},
{"data": {"name": "hist"}, "transform": [{"fold": ["m"], "as": ["lvl","price"]}],
 "mark": {"type": "line", "strokeWidth": 1.5},
 "encoding": {"color": {"datum": "mid-price (predicted)", "type": "nominal"}}},
{"data": {"name": "pred"}, "transform": [{"fold": ["a2","a3","a4","a5","b2","b3","b4","b5"], "as": ["lvl","price"]}],
 "mark": {"type": "line", "strokeWidth": 1.5},
 "encoding": {"detail": {"field": "lvl"}, "color": {"datum": "level-k prices (predicted)", "type": "nominal"}}},
{"data": {"name": "pred"}, "transform": [{"fold": ["a1"], "as": ["lvl","price"]}],
 "mark": {"type": "line", "strokeWidth": 1.5},
 "encoding": {"color": {"datum": "Best-Ask price (predicted)", "type": "nominal"}}},
{"data": {"name": "pred"}, "transform": [{"fold": ["b1"], "as": ["lvl","price"]}],
 "mark": {"type": "line", "strokeWidth": 1.5},
 "encoding": {"color": {"datum": "Best-Bid price (predicted)", "type": "nominal"}}},
{"data": {"name": "pred"}, "transform": [{"fold": ["m"], "as": ["lvl","price"]}],
 "mark": {"type": "line", "strokeWidth": 1.5},
 "encoding": {"color": {"datum": "mid-price (predicted)", "type": "nominal"}}},
{"data": {"values": [{"t": 119.4, "price": 221.616, "price2": 222.637}]},
 "mark": {"type": "rule", "color": "#000000", "strokeWidth": 1, "strokeDash": [1, 1.6]},
 "encoding": {"y2": {"field": "price2"}}}
],
"resolve": {"axis": {"x": "independent"}}
}
],
"config": {
"font": "DejaVu Sans",
"view": {"stroke": "#000000", "strokeWidth": 1},
"axis": {"domain": false, "grid": false, "labelFont": "DejaVu Sans", "labelFontSize": 9.2, "labelColor": "#000000", "tickColor": "#000000", "tickSize": 3.2, "tickWidth": 0.8, "labelPadding": 3, "titleFont": "DejaVu Sans", "titleFontSize": 9.2, "titleFontWeight": "normal", "titleColor": "#000000", "titlePadding": 4},
"legend": {"orient": "none", "legendX": 0, "legendY": -62.5, "columns": 2, "title": null, "symbolType": "M-1,0H2.333", "symbolSize": 144, "symbolStrokeWidth": 1.8, "labelFont": "DejaVu Sans", "labelFontSize": 9.2, "labelColor": "#000000", "labelOffset": 14, "labelLimit": 300, "padding": 3, "rowPadding": 0, "strokeColor": "#cccccc", "fillColor": "#ffffff", "cornerRadius": 2}
}
}
